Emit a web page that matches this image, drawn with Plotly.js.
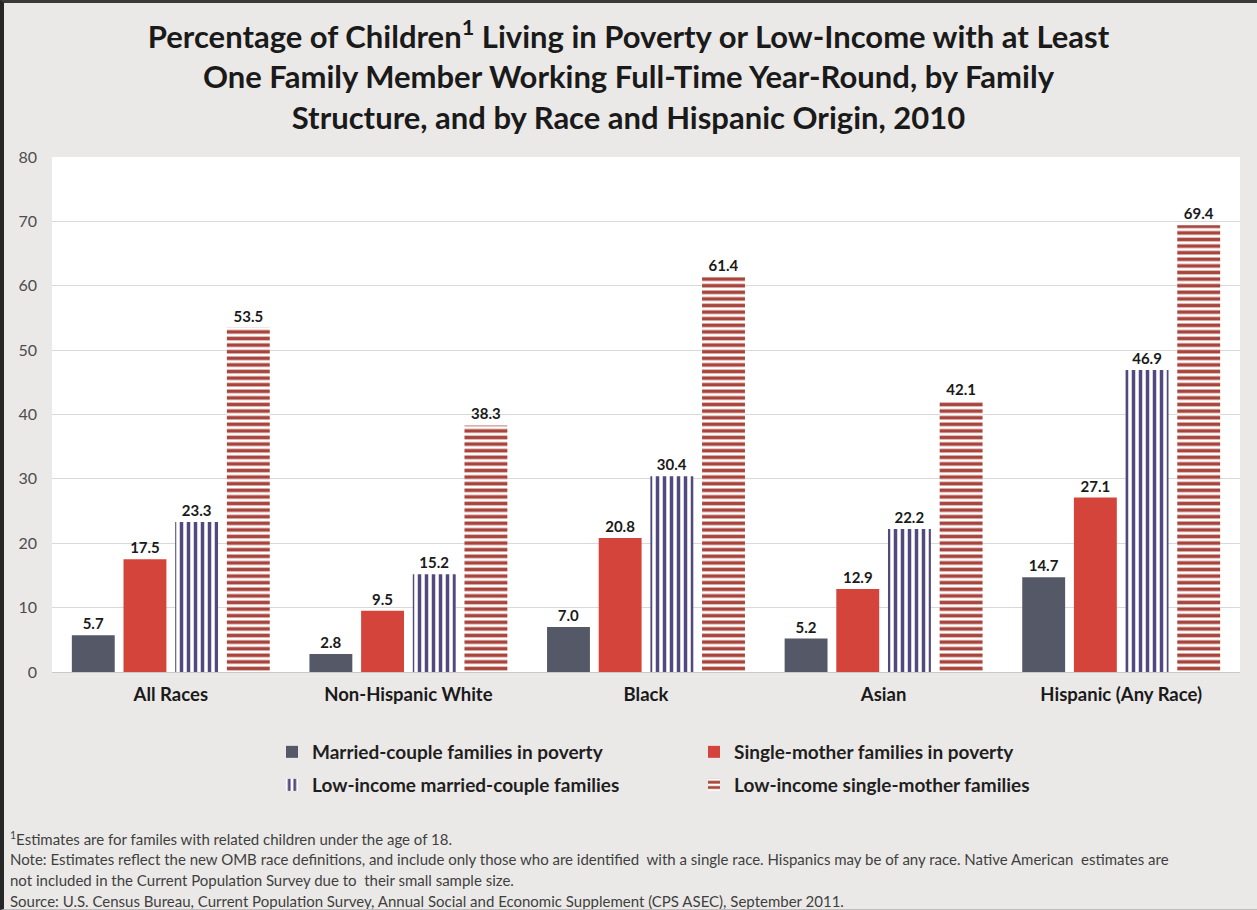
<!DOCTYPE html>
<html>
<head>
<meta charset="utf-8">
<script src="https://cdn.plot.ly/plotly-3.0.1.min.js"></script>
<style>
  html, body { margin: 0; padding: 0; background: #ebe9e7; }
  #wrap { position: relative; width: 1257px; height: 910px; }
  #chart { width: 1257px; height: 910px; }
  #frame { position: absolute; left: 0; top: 0; width: 1257px; height: 910px; box-sizing: border-box;
           border-left: 4px solid #262626; border-top: 3px solid #3a3a3a; border-bottom: 1px solid #bdbdbd; pointer-events: none; }
</style>
</head>
<body>
<div id="wrap"><div id="chart"></div><div id="frame"></div></div>
<script>
// ---- data ----
const categories = ['All Races', 'Non-Hispanic White', 'Black', 'Asian', 'Hispanic (Any Race)'];
const seriesNames = [
  'Married-couple families in poverty',
  'Single-mother families in poverty',
  'Low-income married-couple families',
  'Low-income single-mother families'
];
const marriedPoverty = [5.7, 2.8, 7.0, 5.2, 14.7];
const singleMotherPoverty = [17.5, 9.5, 20.8, 12.9, 27.1];
const lowIncomeMarried = [23.3, 15.2, 30.4, 22.2, 46.9];
const lowIncomeSingleMother = [53.5, 38.3, 61.4, 42.1, 69.4];
const yTicks = [0, 10, 20, 30, 40, 50, 60, 70, 80];

const titleText = 'Percentage of Children<sup>1</sup> Living in Poverty or Low-Income with at Least<br>' +
  'One Family Member Working Full-Time Year-Round, by Family<br>' +
  'Structure, and by Race and Hispanic Origin, 2010';
const footnotes = [
  '<sup>1</sup>Estimates are for familes with related children under the age of 18.',
  'Note: Estimates reflect the new OMB race definitions, and include only those who are identified  with a single race. Hispanics may be of any race. Native American  estimates are',
  'not included in the Current Population Survey due to  their small sample size.',
  'Source: U.S. Census Bureau, Current Population Survey, Annual Social and Economic Supplement (CPS ASEC), September 2011.'
];

// ---- styling ----
const FONT = 'Lato, "Open Sans", sans-serif';
const labelFont = { family: FONT, size: 15, color: '#1a1a1a', weight: 'bold' };

const W = 1257, H = 910;
const M = { l: 52, r: 17, t: 157, b: 238 };
const plotW = W - M.l - M.r, plotH = H - M.t - M.b;
const px2x = px => (px - M.l) / plotW;
const py2y = py => (H - M.b - py) / plotH;

function barTrace(name, values, color, pattern, legendId) {
  const t = {
    type: 'bar', name: name, x: categories, y: values,
    marker: { color: color, line: { width: 0 } },
    text: values.map(v => v.toFixed(1)),
    textposition: 'outside', cliponaxis: false,
    textfont: labelFont,
    legend: legendId,
    hoverinfo: 'x+y+name'
  };
  if (pattern) t.marker.pattern = pattern;
  return t;
}

const traces = [
  barTrace(seriesNames[0], marriedPoverty, '#555867', null, 'legend'),
  barTrace(seriesNames[1], singleMotherPoverty, '#d5443a', null, 'legend'),
  barTrace(seriesNames[2], lowIncomeMarried, '#524a7e',
    { shape: '|', bgcolor: '#ffffff', size: 7, solidity: 0.5 }, 'legend2'),
  barTrace(seriesNames[3], lowIncomeSingleMother, '#a9443c',
    { shape: '-', bgcolor: '#ffffff', size: 6.6, solidity: 0.55 }, 'legend2')
];

const legendFont = { family: FONT, size: 19, color: '#1f1f1f', weight: 'bold' };
const legendCommon = {
  orientation: 'h', xref: 'container', yref: 'container', xanchor: 'left', yanchor: 'middle',
  x: 272 / W, font: legendFont, bgcolor: 'rgba(0,0,0,0)',
  entrywidth: 377, entrywidthmode: 'pixels', itemclick: false, itemdoubleclick: false
};

const annotations = footnotes.map((txt, i) => ({
  text: txt, xref: 'paper', yref: 'paper', x: px2x(8), y: py2y(838 + i * 21),
  xanchor: 'left', yanchor: 'middle', showarrow: false, align: 'left',
  font: { family: FONT, size: 15, color: '#3f3f3f' }
}));

const layout = {
  width: W, height: H,
  paper_bgcolor: '#ebe9e7', plot_bgcolor: '#ffffff',
  margin: M,
  title: {
    text: titleText, xref: 'container', yref: 'container', x: 0.5, xanchor: 'center',
    y: 1 - 48 / H, yanchor: 'top',
    font: { family: FONT, size: 31, color: '#1a1a1a', weight: 'bold' }
  },
  barmode: 'group', bargap: 0.13, bargroupgap: 0.17,
  xaxis: {
    type: 'category', showgrid: false, zeroline: false, showline: false, ticks: '',
    tickfont: { family: FONT, size: 18.5, color: '#1a1a1a', weight: 'bold' },
    ticklabelstandoff: 9, fixedrange: true
  },
  yaxis: {
    range: [0, 80], tickvals: yTicks, showgrid: true, gridcolor: '#d9d9d9', gridwidth: 1,
    zeroline: true, zerolinecolor: '#c8c8c8', zerolinewidth: 1, showline: false, ticks: '',
    tickfont: { family: FONT, size: 16, color: '#4d4d4d' },
    ticklabelstandoff: 14, fixedrange: true
  },
  legend: Object.assign({}, legendCommon, { y: 1 - 752 / H }),
  legend2: Object.assign({}, legendCommon, { y: 1 - 785 / H }),
  annotations: annotations
};

Plotly.newPlot('chart', traces, layout, { displayModeBar: false });
</script>
</body>
</html>
